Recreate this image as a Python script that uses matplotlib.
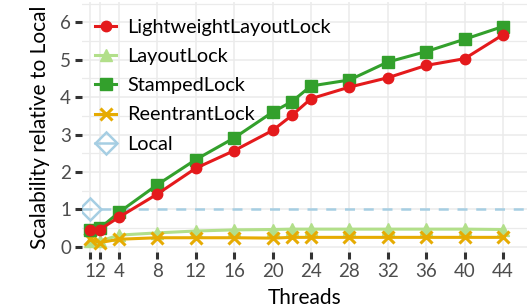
import matplotlib
matplotlib.use("Agg")
import matplotlib.pyplot as plt
from matplotlib.lines import Line2D

plt.rcParams['font.family'] = ['Lato', 'DejaVu Sans']

threads = [1, 2, 4, 8, 12, 16, 20, 22, 24, 28, 32, 36, 40, 44]
lightweight = [0.45, 0.46, 0.79, 1.41, 2.10, 2.57, 3.11, 3.51, 3.96, 4.27, 4.52, 4.85, 5.03, 5.67]
layoutlock = [0.14, 0.15, 0.31, 0.37, 0.42, 0.45, 0.46, 0.47, 0.47, 0.47, 0.47, 0.47, 0.47, 0.46]
stamped = [0.45, 0.49, 0.92, 1.66, 2.33, 2.91, 3.60, 3.88, 4.30, 4.46, 4.94, 5.22, 5.55, 5.89]
reentrant = [0.20, 0.11, 0.20, 0.24, 0.24, 0.24, 0.23, 0.25, 0.25, 0.25, 0.25, 0.25, 0.25, 0.25]
local_x = [1]
local_y = [1.0]
xticks = [1, 2, 4, 8, 12, 16, 20, 24, 28, 32, 36, 40, 44]
yticks = [0, 1, 2, 3, 4, 5, 6]

c_red = '#e41a1c'
c_lgreen = '#b2df8a'
c_green = '#33a02c'
c_orange = '#e6ab02'
c_blue = '#a6cee3'

fig = plt.figure(figsize=(5.27, 3.08), dpi=100)
ax = fig.add_axes([0.156, 0.182, 0.844, 0.812])

ax.axhline(1.0, color=c_blue, lw=1.8, ls=(0, (4, 3.5)), zorder=2)
ax.plot(threads, layoutlock, color=c_lgreen, marker='^', ms=8, lw=2.2, zorder=3)
ax.plot(threads, reentrant, color=c_orange, marker='x', ms=9, mew=2.2, lw=2.2, zorder=4)
ax.plot(threads, stamped, color=c_green, marker='s', ms=8, lw=2.2, zorder=5)
ax.plot(threads, lightweight, color=c_red, marker='o', ms=7.5, lw=2.2, zorder=6)
ax.plot(local_x, local_y, color=c_blue, marker='D', ms=11, mfc='none', mew=1.8, ls='none', zorder=7)

handles = [
    Line2D([], [], color=c_red, marker='o', ms=7.5, lw=2.2),
    Line2D([], [], color=c_lgreen, marker='^', ms=8, lw=2.2),
    Line2D([], [], color=c_green, marker='s', ms=8, lw=2.2),
    Line2D([], [], color=c_orange, marker='x', ms=9, mew=2.2, lw=2.2),
    Line2D([], [], color=c_blue, marker='D', ms=11, mfc='none', mew=1.8, lw=1.8),
]
labels = ['LightweightLayoutLock', 'LayoutLock', 'StampedLock', 'ReentrantLock', 'Local']
ax.legend(handles, labels, loc='upper left', frameon=False, fontsize=14.3,
          handlelength=1.1, handletextpad=0.55, labelspacing=0.62,
          borderaxespad=0.0, bbox_to_anchor=(0.01, 0.965))

ax.set_xlim(0.17, 46.5)
ax.set_ylim(-0.14, 6.55)
ax.set_xticks(xticks)
ax.set_xticklabels([str(t) for t in xticks])
ax.set_yticks(yticks)
ax.set_yticks([0.5, 1.5, 2.5, 3.5, 4.5, 5.5, 6.5], minor=True)
ax.grid(True, which='major', color='#ebebeb', lw=1.1)
ax.grid(True, which='minor', axis='y', color='#ebebeb', lw=0.9)
for s in ax.spines.values():
    s.set_visible(False)
ax.tick_params(axis='both', which='major', length=5, width=2.2, color='#333333',
               labelcolor='#4d4d4d', labelsize=13.5, pad=3)
ax.tick_params(axis='y', which='minor', length=0)
ax.set_axisbelow(True)
ax.set_xlabel('Threads', fontsize=15, labelpad=6)
ax.set_ylabel('Scalability relative to Local', fontsize=15, labelpad=7)

fig.savefig('out.png', dpi=100)
